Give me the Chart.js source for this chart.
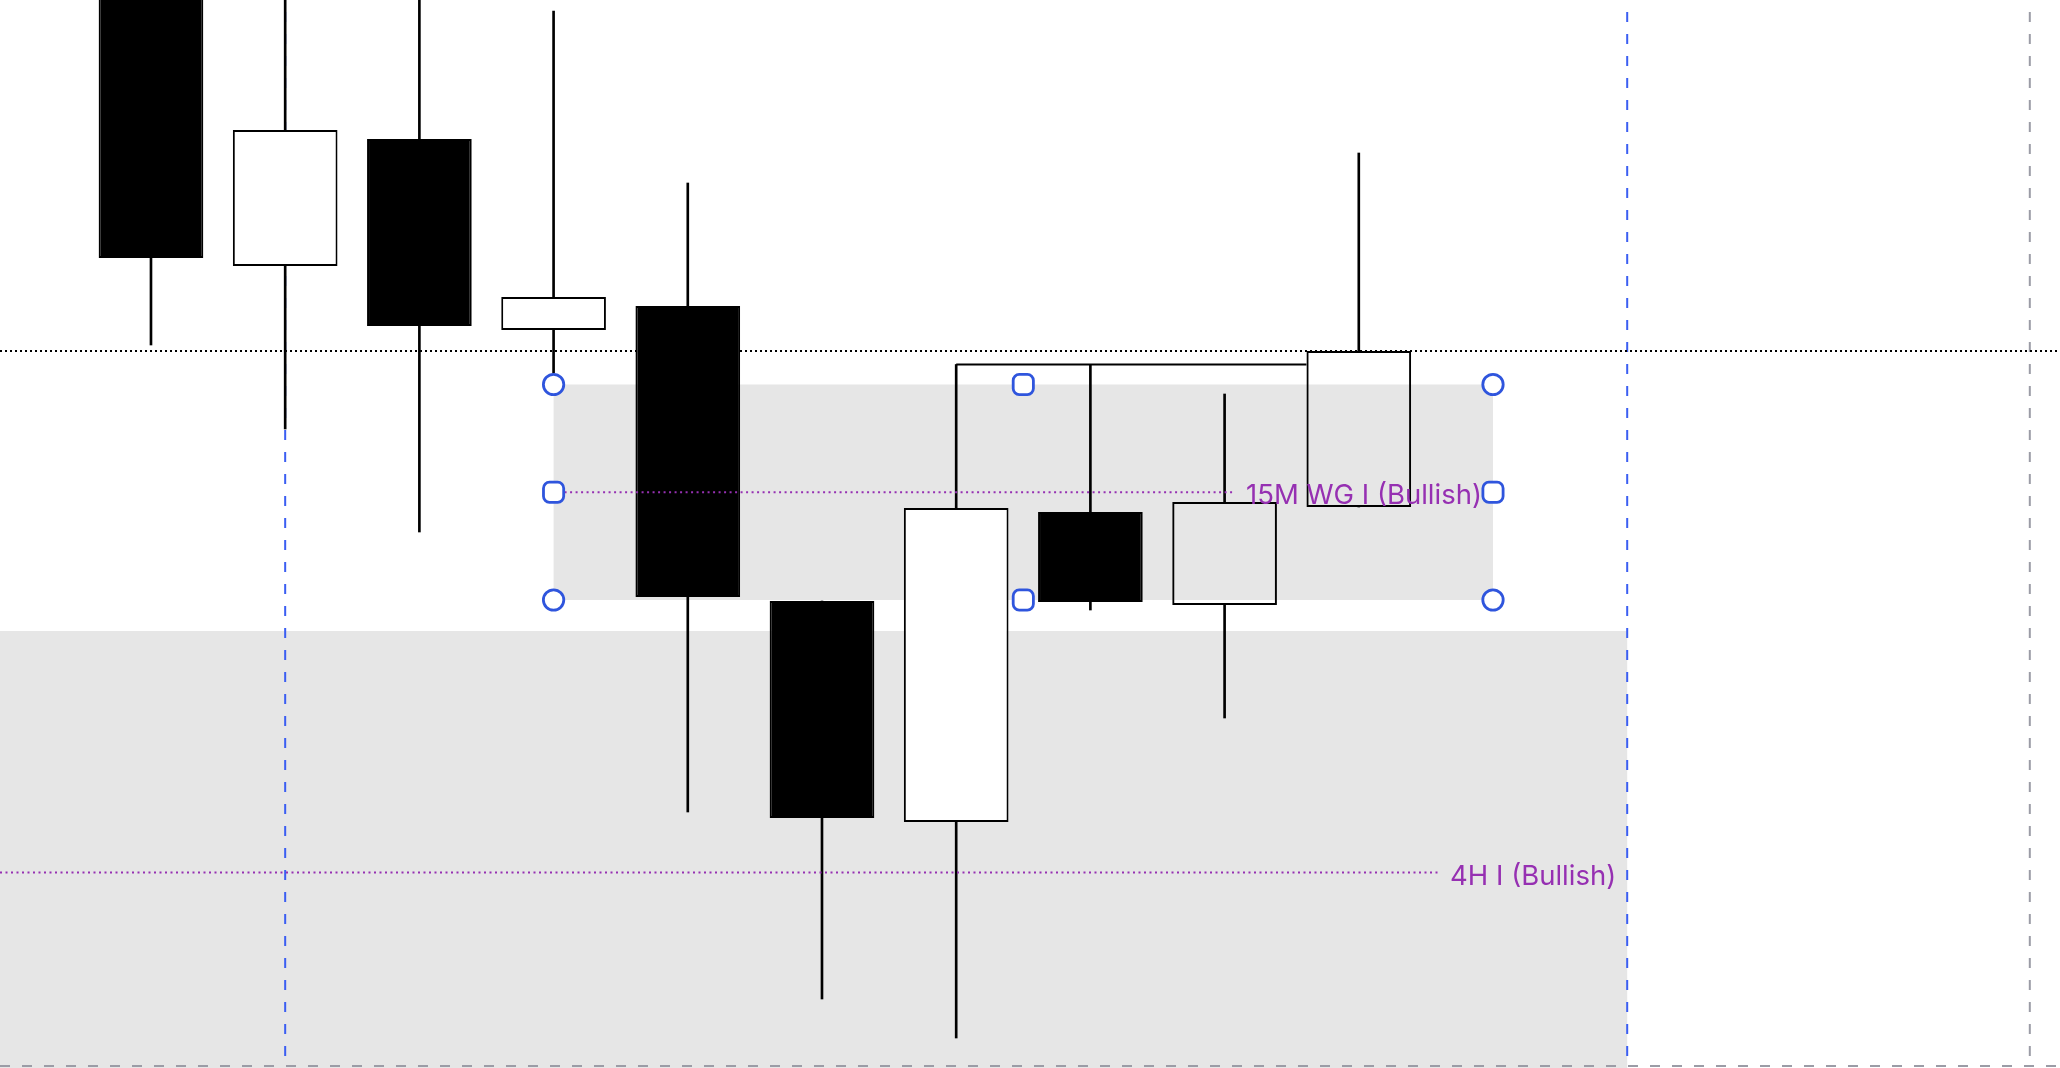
<!DOCTYPE html>
<html>
<head>
<meta charset="utf-8">
<script src="https://cdn.jsdelivr.net/npm/chart.js@4.4.1/dist/chart.umd.min.js"></script>
<style>
  html, body { margin: 0; padding: 0; background: #fff; overflow: hidden; }
</style>
</head>
<body>
<canvas id="chart" width="2060" height="1068"></canvas>
<script>
// candles (price units, index = bar number)
const candleIdx = [0, 1, 2, 3, 4, 5, 6, 7, 8, 9];
const opens  = [111.20, 108.02, 109.29, 107.38, 107.62, 104.67, 102.46, 105.56, 104.63, 105.61];
const closes = [108.10, 109.38, 107.42, 107.71, 104.71, 102.50, 105.60, 104.66, 105.66, 107.17];
const highs  = [111.60, 111.50, 111.30, 110.57, 108.85, 104.67, 107.035, 107.035, 106.74, 109.15];
const lows   = [107.23, 106.39, 105.36, 106.95, 102.56, 100.69, 100.30, 104.58, 103.50, 105.61];

// odd connector drawn across the top of bars 6..8
const connectorX = [6, 8.61];
const connectorPrice = 107.035;

// zones (bar index range, price range) and their labels
const zoneLabels = ['15M WG I (Bullish)', '4H I (Bullish)'];
const zoneX      = [[3, 10], [-2, 11]];
const zoneLow    = [104.68, 99.54];
const zoneHigh   = [106.835, 104.37];

// vertical markers
const sessionLines = [1, 11];
const edgeLine = 14;
const bottomEdge = 100.02;

// visible window
const xMin = -1.125, xMax = 14.225;
const yMin = 100.00, yMax = 110.68;

const hollowFrom = 8; // last bars are drawn hollow

const PURPLE = '#9630b2';
const BLUE = '#3b5ef2';
const HANDLE = '#2f55dd';
const GREY_LINE = '#9b9ca6';

const overlay = {
  id: 'overlay',
  beforeDatasetsDraw(chart) {
    const {ctx, chartArea: a, scales: {x, y}} = chart;
    ctx.save();
    ctx.beginPath();
    ctx.rect(a.left, a.top, a.right - a.left, a.bottom - a.top);
    ctx.clip();

    // shaded zones
    ctx.fillStyle = '#e6e6e6';
    zoneLabels.forEach((_, i) => {
      const x0 = x.getPixelForValue(zoneX[i][0]);
      const x1 = x.getPixelForValue(zoneX[i][1]);
      const y0 = y.getPixelForValue(zoneHigh[i]);
      const y1 = y.getPixelForValue(zoneLow[i]);
      ctx.fillRect(x0, y0, x1 - x0, y1 - y0);
    });

    // session lines
    ctx.lineWidth = 2;
    ctx.strokeStyle = BLUE;
    ctx.setLineDash([10, 12]);
    ctx.lineDashOffset = 10;
    sessionLines.forEach(v => {
      const px = x.getPixelForValue(v);
      ctx.beginPath();
      ctx.moveTo(px, a.top);
      ctx.lineTo(px, a.bottom);
      ctx.stroke();
    });

    // right edge + bottom edge
    ctx.strokeStyle = GREY_LINE;
    const ex = x.getPixelForValue(edgeLine);
    ctx.beginPath();
    ctx.moveTo(ex, a.top);
    ctx.lineTo(ex, a.bottom);
    ctx.stroke();
    const by = y.getPixelForValue(bottomEdge);
    ctx.lineDashOffset = 0;
    ctx.beginPath();
    ctx.moveTo(a.left, by);
    ctx.lineTo(a.right, by);
    ctx.stroke();

    // last price line
    const py = y.getPixelForValue(closes[closes.length - 1]);
    ctx.strokeStyle = '#000';
    ctx.setLineDash([2, 3]);
    ctx.beginPath();
    ctx.moveTo(a.left, py);
    ctx.lineTo(a.right, py);
    ctx.stroke();
    ctx.restore();
  },
  afterDatasetsDraw(chart) {
    const {ctx, chartArea: a, scales: {x, y}} = chart;
    ctx.save();
    ctx.font = '27.5px Inter, "Noto Sans", sans-serif';
    ctx.textAlign = 'right';
    ctx.textBaseline = 'alphabetic';

    zoneLabels.forEach((label, i) => {
      const x0 = Math.max(x.getPixelForValue(zoneX[i][0]), a.left);
      const x1 = x.getPixelForValue(zoneX[i][1]);
      const mid = y.getPixelForValue((zoneLow[i] + zoneHigh[i]) / 2);
      const tw = ctx.measureText(label).width;
      const tx = x1 - 11;
      ctx.strokeStyle = PURPLE;
      ctx.lineWidth = 2;
      ctx.setLineDash([2, 3.5]);
      ctx.beginPath();
      ctx.moveTo(x0, mid);
      ctx.lineTo(tx - tw - 11, mid);
      ctx.stroke();
      ctx.fillStyle = PURPLE;
      ctx.fillText(label, tx, mid + 12);
    });

    // selection handles on the first zone
    const hx = [x.getPixelForValue(zoneX[0][0]), x.getPixelForValue((zoneX[0][0] + zoneX[0][1]) / 2), x.getPixelForValue(zoneX[0][1])];
    const hy = [y.getPixelForValue(zoneHigh[0]), y.getPixelForValue((zoneLow[0] + zoneHigh[0]) / 2), y.getPixelForValue(zoneLow[0])];
    ctx.setLineDash([]);
    ctx.lineWidth = 2.8;
    ctx.strokeStyle = HANDLE;
    ctx.fillStyle = '#fff';
    for (let r = 0; r < 3; r++) {
      for (let c = 0; c < 3; c++) {
        if (r === 1 && c === 1) continue;
        ctx.beginPath();
        if (r !== 1 && c !== 1) {
          ctx.arc(hx[c], hy[r], 10.2, 0, Math.PI * 2);
        } else {
          ctx.roundRect(hx[c] - 10.1, hy[r] - 10.1, 20.2, 20.2, 6);
        }
        ctx.fill();
        ctx.stroke();
      }
    }
    ctx.restore();
  }
};

// wicks split in two so hollow bodies stay empty
const upperWicks = candleIdx.map((v, i) => ({x: v, y: [Math.max(opens[i], closes[i]), highs[i]]}));
const lowerWicks = candleIdx.map((v, i) => ({x: v, y: [lows[i], Math.min(opens[i], closes[i])]}));

const wickStyle = {
  backgroundColor: '#000',
  barThickness: 2,
  grouped: false,
  order: 2
};

new Chart(document.getElementById('chart'), {
  type: 'bar',
  data: {
    datasets: [{
      label: 'connector',
      type: 'line',
      data: connectorX.map(v => ({x: v, y: connectorPrice})),
      borderColor: '#000',
      borderWidth: 2,
      pointRadius: 0,
      order: 0
    }, {
      label: 'bodies',
      data: candleIdx.map((v, i) => ({x: v, y: [opens[i], closes[i]]})),
      backgroundColor: c => {
        const i = c.dataIndex;
        if (closes[i] < opens[i]) return '#000';
        return i >= hollowFrom ? 'rgba(0,0,0,0)' : '#fff';
      },
      borderColor: '#000',
      borderWidth: 2,
      borderSkipped: false,
      barPercentage: 0.78,
      categoryPercentage: 1,
      grouped: false,
      order: 1
    },
    Object.assign({ label: 'upper wicks', data: upperWicks }, wickStyle),
    Object.assign({ label: 'lower wicks', data: lowerWicks }, wickStyle)
    ]
  },
  options: {
    responsive: false,
    devicePixelRatio: 1,
    animation: false,
    layout: { padding: 0 },
    plugins: { legend: { display: false }, tooltip: { enabled: false } },
    scales: {
      x: { type: 'linear', min: xMin, max: xMax, offset: false, display: false },
      y: { type: 'linear', min: yMin, max: yMax, display: false }
    }
  },
  plugins: [overlay]
});
</script>
</body>
</html>
